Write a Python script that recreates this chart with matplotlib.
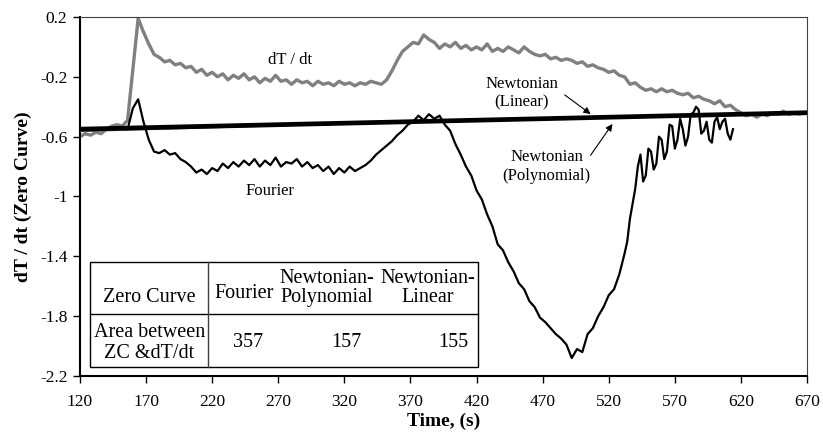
import matplotlib
matplotlib.use("Agg")
import matplotlib.pyplot as plt
from matplotlib.ticker import FuncFormatter
from matplotlib.lines import Line2D
from matplotlib.patches import Rectangle

plt.rcParams['font.family'] = ['Liberation Serif', 'DejaVu Serif']
plt.rcParams['axes.unicode_minus'] = False

# dT/dt curve, every 4 s
dtdt_time = list(range(120, 669, 4))
dtdt_vals = [
    -0.60, -0.58, -0.59, -0.57, -0.58, -0.55, -0.53, -0.52, -0.53, -0.49,
    -0.15, 0.19, 0.10, 0.02, -0.05, -0.07, -0.10, -0.09, -0.12, -0.11,
    -0.14, -0.13, -0.17, -0.15, -0.19, -0.17, -0.20, -0.18, -0.22, -0.19,
    -0.21, -0.18, -0.22, -0.20, -0.24, -0.21, -0.23, -0.19, -0.23, -0.22,
    -0.25, -0.22, -0.24, -0.23, -0.26, -0.23, -0.25, -0.24, -0.26, -0.23,
    -0.25, -0.24, -0.26, -0.24, -0.25, -0.23, -0.24, -0.25, -0.22, -0.16,
    -0.09, -0.03, 0.00, 0.03, 0.02, 0.08, 0.05, 0.03, -0.01, 0.02,
    0.00, 0.03, -0.01, 0.01, -0.02, 0.00, -0.02, 0.02, -0.03, -0.01,
    -0.03, 0.00, -0.02, -0.04, 0.00, -0.03, -0.05, -0.06, -0.05, -0.08,
    -0.07, -0.09, -0.08, -0.09, -0.11, -0.10, -0.13, -0.12, -0.14, -0.15,
    -0.17, -0.16, -0.19, -0.20, -0.25, -0.24, -0.27, -0.29, -0.28, -0.30,
    -0.28, -0.30, -0.29, -0.31, -0.32, -0.31, -0.34, -0.33, -0.35, -0.36,
    -0.38, -0.36, -0.40, -0.39, -0.42, -0.44, -0.46, -0.45, -0.47, -0.45,
    -0.46, -0.44, -0.45, -0.43, -0.45, -0.44, -0.45, -0.44,
]

# Fourier zero curve (4 s steps, then 2 s steps in the noisy tail)
four_time = list(range(156, 528, 4)) + list(range(528, 615, 2))
four_vals = [
    -0.55, -0.41, -0.35, -0.50, -0.62, -0.70, -0.71, -0.69, -0.72, -0.71,
    -0.75, -0.77, -0.80, -0.84, -0.82, -0.85, -0.81, -0.83, -0.78, -0.81,
    -0.77, -0.80, -0.76, -0.79, -0.75, -0.80, -0.76, -0.79, -0.74, -0.80,
    -0.77, -0.78, -0.75, -0.80, -0.77, -0.81, -0.79, -0.83, -0.80, -0.85,
    -0.81, -0.84, -0.80, -0.83, -0.81, -0.79, -0.76, -0.72, -0.69, -0.66,
    -0.63, -0.59, -0.56, -0.52, -0.50, -0.46, -0.49, -0.45, -0.48, -0.46,
    -0.52, -0.56, -0.65, -0.72, -0.80, -0.86, -0.96, -1.02, -1.12, -1.20,
    -1.32, -1.36, -1.44, -1.50, -1.58, -1.62, -1.70, -1.74, -1.81, -1.84,
    -1.88, -1.92, -1.95, -1.99, -2.08, -2.02, -2.04, -1.92, -1.88, -1.80,
    -1.74, -1.66, -1.62,
    -1.52, -1.45, -1.38, -1.30, -1.15, -1.05, -0.95, -0.80, -0.72, -0.90,
    -0.86, -0.68, -0.70, -0.82, -0.78, -0.60, -0.62, -0.75, -0.70, -0.52,
    -0.53, -0.68, -0.62, -0.48, -0.55, -0.66, -0.60, -0.45, -0.44, -0.40,
    -0.42, -0.58, -0.56, -0.50, -0.62, -0.64, -0.50, -0.47, -0.55, -0.50,
    -0.48, -0.58, -0.62, -0.55,
]

# Newtonian zero curves
lin_time = [120, 670]
lin_vals = [-0.55, -0.44]
poly_time = [120, 200, 300, 400, 500, 600, 670]
poly_vals = [-0.565, -0.545, -0.52, -0.495, -0.47, -0.45, -0.44]

# table
tbl_header = ["Zero Curve", "Fourier", "Newtonian-\nPolynomial", "Newtonian-\nLinear"]
tbl_row = ["Area between\nZC &dT/dt", "357", "157", "155"]

fig = plt.figure(figsize=(8.23, 4.41), dpi=100)
ax = fig.add_axes([0.0972, 0.1474, 0.8834, 0.8141])

ax.plot(dtdt_time, dtdt_vals, color='#808080', lw=2.4, zorder=2)
ax.plot(poly_time, poly_vals, color='#606060', lw=1.0, zorder=3)
ax.plot(four_time, four_vals, color='black', lw=1.6, zorder=4)
ax.plot(lin_time, lin_vals, color='black', lw=3.4, zorder=5, solid_capstyle='butt')

ax.set_xlim(120, 670)
ax.set_ylim(-2.2, 0.2)
ax.set_xticks(range(120, 671, 50))
ax.set_yticks([0.2, -0.2, -0.6, -1.0, -1.4, -1.8, -2.2])
ax.yaxis.set_major_formatter(FuncFormatter(lambda v, p: '%g' % round(v, 1)))
ax.tick_params(direction='out', length=5, width=1, labelsize=12.5, pad=4)
ax.tick_params(axis='x', pad=8)
for s in ['left', 'bottom']:
    ax.spines[s].set_linewidth(1.5)
for s in ['top', 'right']:
    ax.spines[s].set_linewidth(0.8)
    ax.spines[s].set_color('#404040')

ax.set_xlabel('Time, (s)', fontsize=14, fontweight='bold', labelpad=2)
ax.set_ylabel('dT / dt (Zero Curve)', fontsize=14, fontweight='bold', labelpad=6)

ax.text(279, -0.087, 'dT / dt', fontsize=12, ha='center', va='center')
ax.text(264, -0.96, 'Fourier', fontsize=12, ha='center', va='center')
ax.text(454, -0.31, 'Newtonian\n(Linear)', fontsize=12, ha='center', va='center',
        linespacing=1.2)
ax.text(473, -0.80, 'Newtonian\n(Polynomial)', fontsize=12, ha='center', va='center',
        linespacing=1.2)
ax.annotate('', xy=(508, -0.46), xytext=(485, -0.31),
            arrowprops=dict(arrowstyle='-|>', color='black', lw=0.8,
                            mutation_scale=10))
ax.annotate('', xy=(524, -0.50), xytext=(505, -0.74),
            arrowprops=dict(arrowstyle='-|>', color='black', lw=0.8,
                            mutation_scale=10))

# table drawn in axes coordinates
tx0, tx1 = 0.0138, 0.547
ty0, ty1 = 0.025, 0.3175
tmid = 0.1727
tcol = 0.176
ax.add_patch(Rectangle((tx0, ty0), tx1 - tx0, ty1 - ty0, transform=ax.transAxes,
                       fill=True, facecolor='white', edgecolor='black', lw=1.0,
                       zorder=6))
ax.add_line(Line2D([tx0, tx1], [tmid, tmid], transform=ax.transAxes,
                   color='black', lw=1.0, zorder=7))
ax.add_line(Line2D([tcol, tcol], [ty0, ty1], transform=ax.transAxes,
                   color='#404040', lw=1.0, zorder=7))

hdr_x = [0.0952, 0.2255, 0.339, 0.478]
hdr_y = [0.218, 0.23, 0.245, 0.245]
row_x = [0.0952, 0.231, 0.367, 0.513]
for i, t in enumerate(tbl_header):
    ax.text(hdr_x[i], hdr_y[i], t, transform=ax.transAxes, fontsize=14.5,
            ha='center', va='center', linespacing=1.05, zorder=8)
for i, t in enumerate(tbl_row):
    ax.text(row_x[i], 0.092, t, transform=ax.transAxes, fontsize=14.5,
            ha='center', va='center', linespacing=1.1, zorder=8)

fig.savefig('out.png', dpi=100)
